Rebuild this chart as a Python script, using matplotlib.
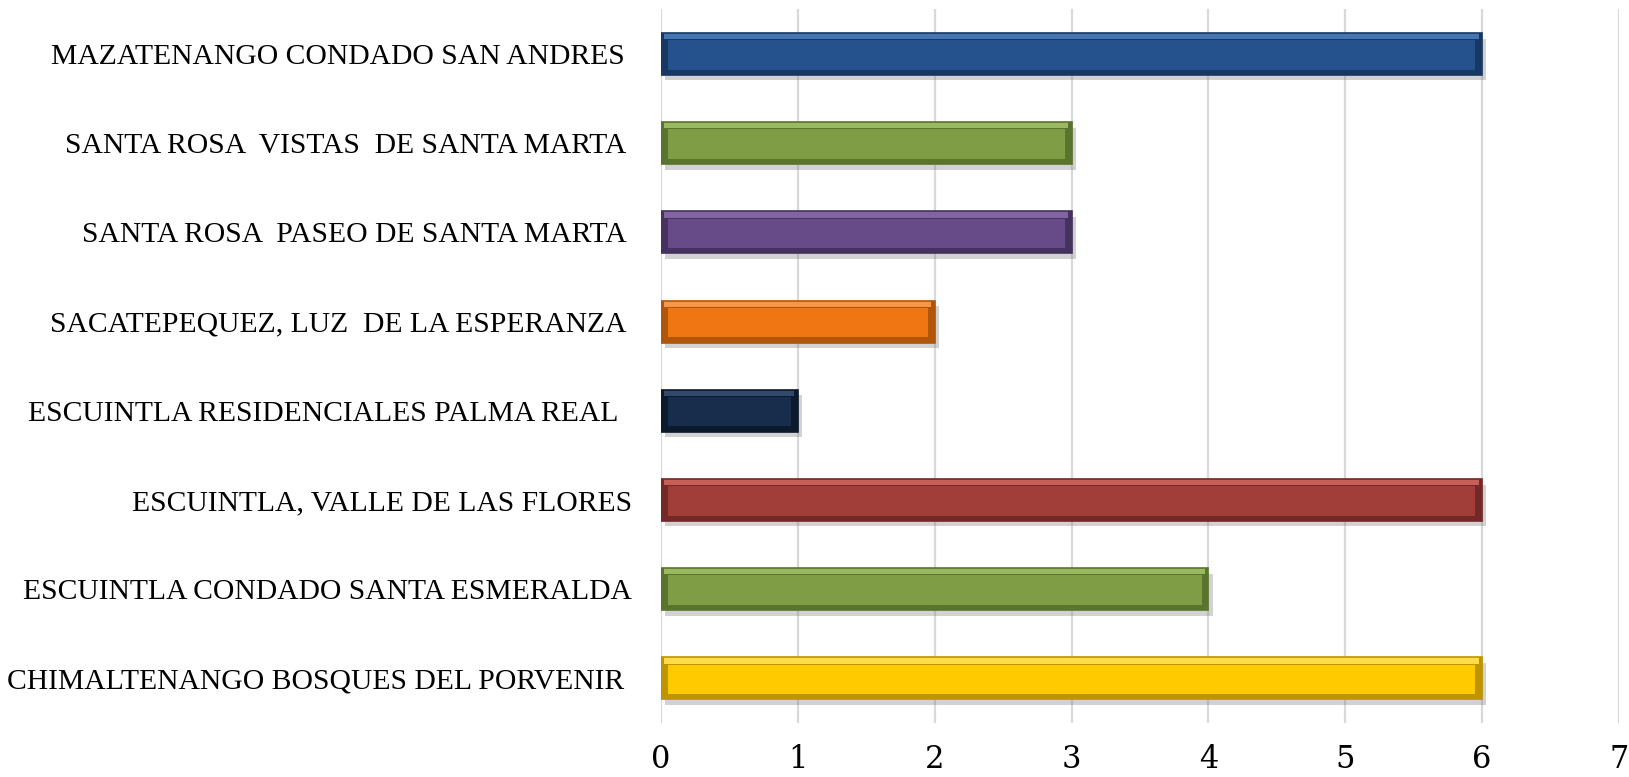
import matplotlib.pyplot as plt
import matplotlib.patheffects as pe
import numpy as np

# data, listed top to bottom as in the chart
labels = ['MAZATENANGO CONDADO SAN ANDRES ',
          'SANTA ROSA  VISTAS  DE SANTA MARTA ',
          'SANTA ROSA  PASEO DE SANTA MARTA ',
          'SACATEPEQUEZ, LUZ  DE LA ESPERANZA ',
          'ESCUINTLA RESIDENCIALES PALMA REAL  ',
          'ESCUINTLA, VALLE DE LAS FLORES',
          'ESCUINTLA CONDADO SANTA ESMERALDA',
          'CHIMALTENANGO BOSQUES DEL PORVENIR ']
values = [6, 3, 3, 2, 1, 6, 4, 6]
face_colors = ['#25528C', '#7F9D45', '#664B88', '#EF7612', '#182C4B', '#A13E3A', '#7F9D45', '#FFCB00']
light_colors = ['#4676B2', '#9BB962', '#8165A3', '#F5964A', '#33496B', '#C65F5A', '#9BB962', '#FFDC4A']
dark_colors = ['#173863', '#5A742D', '#46325F', '#B0560A', '#0C1A2E', '#732927', '#5A742D', '#BE9400']
xticks = [0, 1, 2, 3, 4, 5, 6, 7]

fig = plt.figure(figsize=(16.29, 7.77), dpi=100)
ax = fig.add_axes([0.4058, 0.0695, 0.5880, 0.9185])

y = np.arange(len(values))
h = 0.47
bev = 0.07    # bevel thickness (category units)
bx = 0.05     # bevel width at the ends (data units)
vals = np.array(values, dtype=float)

# base bar with shadow
ax.barh(y, vals, height=h, color=dark_colors, zorder=3,
        path_effects=[pe.SimplePatchShadow(offset=(3, -4), shadow_rgbFace='#7f7f7f', alpha=0.35), pe.Normal()])
# top highlight bevel
ax.barh(y - h / 2 + bev / 2, vals - bx, left=bx / 2, height=bev, color=light_colors, zorder=4)
# front face
ax.barh(y + bev * 0.15, vals - 2 * bx, left=bx, height=h - 2 * bev, color=face_colors, zorder=5)
# thin outline
ax.barh(y, vals, height=h, fill=False, edgecolor=dark_colors, linewidth=1.2, zorder=6)

ax.set_xlim(0, 7)
ax.set_ylim(len(values) - 0.5, -0.5)
ax.set_xticks(xticks)
ax.set_yticks(y)
ax.set_yticklabels(labels, family='Liberation Serif', fontsize=21.3)
ax.set_xticklabels([str(t) for t in xticks], family='DejaVu Serif', fontsize=22)
ax.tick_params(axis='y', length=0, pad=21)
ax.tick_params(axis='x', length=0, pad=15)
ax.grid(axis='x', color='#D9D9D9', linewidth=1.6, zorder=0)
ax.set_axisbelow(True)
for s in ax.spines.values():
    s.set_visible(False)

fig.savefig('out.png', dpi=100)
